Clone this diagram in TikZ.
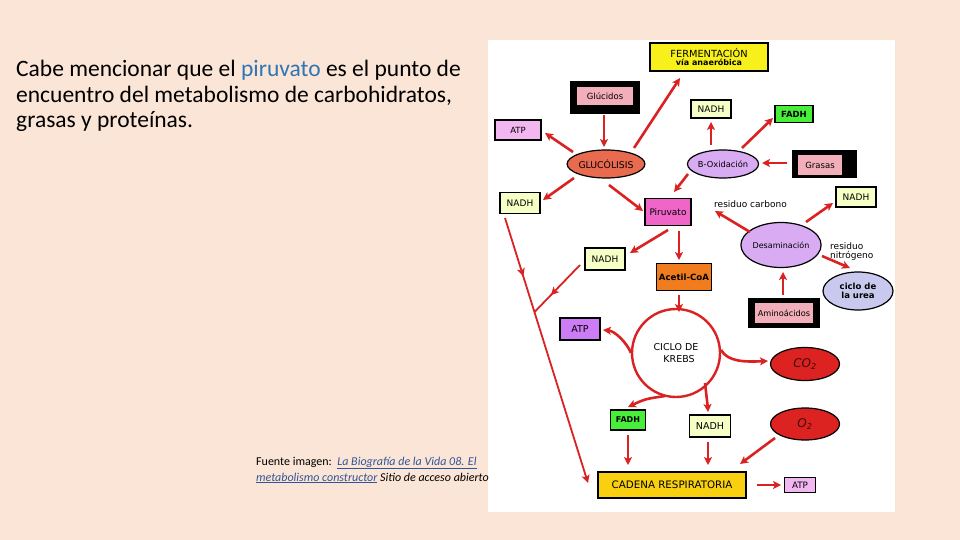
\documentclass[tikz,border=0pt]{standalone}
\usepackage{fontspec}
\setmainfont{Carlito}
\newfontfamily\bfont{DejaVu Sans}
\usetikzlibrary{shapes.geometric,arrows.meta,calc,decorations.markings}
\definecolor{bgc}{HTML}{FBE5D6}
\definecolor{linkblue}{HTML}{2E75B6}
\definecolor{srcblue}{HTML}{2F5597}
\definecolor{arr}{HTML}{DA2222}
\definecolor{ferm}{HTML}{F8F01A}
\definecolor{pinkb}{HTML}{F2AEB9}
\definecolor{atpl}{HTML}{F2B6F0}
\definecolor{nadhc}{HTML}{F6FFC6}
\definecolor{fadhc}{HTML}{47EE3A}
\definecolor{glucc}{HTML}{E86A4F}
\definecolor{lav}{HTML}{D9ABF2}
\definecolor{piruc}{HTML}{F066C8}
\definecolor{acetc}{HTML}{F07C1E}
\definecolor{atpm}{HTML}{CC7CF5}
\definecolor{redc}{HTML}{DD2222}
\definecolor{ureac}{HTML}{C9C8EE}
\definecolor{cadc}{HTML}{F9D010}
\definecolor{dtext}{HTML}{3A0A0A}
\newcommand\fz[1]{\bfont\fontsize{#1}{#1}\selectfont}
\begin{document}
\begin{tikzpicture}[x=1pt,y=-1pt,
  lbl/.style={font=\fz{8.5}},
  box/.style={rectangle,draw=black,line width=1.5pt,inner sep=0pt,lbl},
  ell/.style={ellipse,draw=black,line width=1.2pt,inner sep=0pt,lbl},
  blk/.style={rectangle,fill=black,inner sep=0pt},
  inr/.style={rectangle,fill=pinkb,inner sep=0pt,lbl},
  arw/.style={draw=arr,line width=2.6pt,-{Stealth[length=8pt,width=8pt,inset=2pt]}},
  thin/.style={draw=arr,line width=1.8pt},
  midarr/.style={postaction={decorate},decoration={markings,mark=at position #1 with {\arrow[arr]{Stealth[length=8pt,width=8pt,inset=2pt]}}}}
]
\fill[bgc] (0,0) rectangle (960,540);
\useasboundingbox (0,0) rectangle (960,540);
\fill[white] (488,40) rectangle (895,512);

% left text
\node[anchor=base west,inner sep=0pt,font=\fontsize{23.5}{25}\selectfont] (t1) at (16,77) {Cabe mencionar que el \textcolor{linkblue}{piruvato} es el punto de};
\node[anchor=base west,inner sep=0pt,font=\fontsize{23.5}{25}\selectfont] (t2) at (16,103) {encuentro del metabolismo de carbohidratos,};
\node[anchor=base west,inner sep=0pt,font=\fontsize{23.5}{25}\selectfont] (t3) at (16,128) {grasas y proteínas.};
\node[anchor=base west,inner sep=0pt,font=\fontsize{12}{13}\selectfont] (s1) at (256,465) {Fuente imagen:\ \ \textcolor{srcblue}{\itshape\underline{La Biografía de la Vida 08. El}}};
\node[anchor=base west,inner sep=0pt,font=\fontsize{12}{13}\selectfont] (s2) at (256,481) {\textcolor{srcblue}{\itshape\underline{metabolismo constructor}} \itshape Sitio de acceso abierto};

% nodes
\node[box,fill=ferm,minimum width=118pt,minimum height=28pt,align=center] (ferm) at (709,57) {\fz{9.8}FERMENTACIÓN\\[-0.5pt]\fz{8}\bfseries vía anaeróbica};
\node[blk,minimum width=70pt,minimum height=33pt] (glucidos) at (605,98) {};
\node[inr,minimum width=56pt,minimum height=18pt] (glucidosin) at (605,96) {Glúcidos};
\node[box,fill=atpl,minimum width=46pt,minimum height=20pt] (atp1) at (518,130) {ATP};
\node[box,fill=nadhc,minimum width=40pt,minimum height=18pt,font=\fz{9}] (nadh1) at (711,109) {NADH};
\node[box,fill=fadhc,minimum width=38pt,minimum height=17pt,font=\fz{8.5}\bfseries] (fadh1) at (794,114) {FADH};
\node[ell,fill=glucc,minimum width=73pt,minimum height=28pt,font=\fz{9.3}] (gluc) at (606,164) {GLUCÓLISIS};
\node[ell,fill=lav,minimum width=70pt,minimum height=28pt,font=\fz{8.3}] (boxi) at (723,164) {B-Oxidación};
\node[blk,minimum width=65pt,minimum height=28pt] (grasas) at (824,164) {};
\node[inr,minimum width=44pt,minimum height=20pt] (grasasin) at (820,165) {Grasas};
\node[box,fill=nadhc,minimum width=40pt,minimum height=20pt,font=\fz{9}] (nadh2) at (856,197) {NADH};
\node[box,fill=nadhc,minimum width=40pt,minimum height=21pt,font=\fz{9}] (nadhL) at (520,203) {NADH};
\node[box,fill=piruc,minimum width=46pt,minimum height=27pt,font=\fz{9}] (piru) at (668,212) {Piruvato};
\node[lbl,anchor=west,inner sep=0pt,font=\fz{9}] (rc) at (714,204) {residuo carbono};
\node[ell,fill=lav,minimum width=70pt,minimum height=45pt,font=\fz{8}] (desam) at (781,245) {Desaminación};
\node[lbl,anchor=north west,inner sep=0pt,align=left,font=\fz{9}] (rn) at (830,242) {residuo\\[0.5pt]nitrógeno};
\node[ell,fill=ureac,minimum width=70pt,minimum height=38pt,align=center,font=\fz{8.5}\bfseries] (urea) at (858,291) {ciclo de\\[1pt]la urea};
\node[box,fill=nadhc,minimum width=40pt,minimum height=22pt,font=\fz{9}] (nadh3) at (605,259) {NADH};
\node[box,fill=acetc,minimum width=55pt,minimum height=27pt,font=\fz{8.6}\bfseries] (acetil) at (684,277) {Acetil-CoA};
\node[blk,minimum width=72pt,minimum height=30pt] (amino) at (784,313) {};
\node[inr,minimum width=58pt,minimum height=20pt,font=\fz{8.2}] (aminoin) at (784,313) {Aminoácidos};
\node[box,fill=atpm,minimum width=40pt,minimum height=22pt,font=\fz{9.5}] (atp2) at (580,329) {ATP};
\node[circle,draw=arr,fill=white,line width=2.4pt,minimum size=88pt,inner sep=0pt,align=center,font=\fz{9.5}] (krebs) at (676,353) {CICLO DE\\[2pt]\ \ KREBS};
\node[ell,fill=redc,minimum width=69pt,minimum height=33pt,font=\fz{12}\itshape,text=dtext] (co2) at (805,364) {CO\textsubscript{2}};
\node[ell,fill=redc,minimum width=69pt,minimum height=32pt,font=\fz{12}\itshape,text=dtext] (o2) at (805,424) {O\textsubscript{2}};
\node[box,fill=fadhc,minimum width=35pt,minimum height=20pt,font=\fz{8}\bfseries] (fadh2) at (628,420) {FADH};
\node[box,fill=nadhc,minimum width=41pt,minimum height=22pt,font=\fz{9.5}] (nadh4) at (710,426) {NADH};
\node[box,fill=cadc,line width=2.5pt,minimum width=148pt,minimum height=26pt,font=\fz{10.3}] (cadena) at (672,485) {CADENA RESPIRATORIA};
\node[box,fill=atpl,minimum width=31pt,minimum height=15pt,font=\fz{8.8}] (atp3) at (800,485) {ATP};

% arrows
\draw[arw] ($(glucidos)+(-1,17)$) -- ($(gluc)+(-2,-17)$);
\draw[arw] ($(gluc)+(-33,-12)$) -- ($(atp1)+(27,3)$);
\draw[arw] ($(gluc)+(28,-16)$) -- ($(ferm)+(-29,21)$);
\draw[arw] ($(gluc)+(-32,14)$) -- ($(nadhL)+(23,-3)$);
\draw[arw] ($(gluc)+(3,21)$) -- ($(piru)+(-25,-1)$);
\draw[arw] ($(boxi)+(-12,-19)$) -- ($(nadh1)+(0,13)$);
\draw[arw] ($(boxi)+(19,-16)$) -- ($(fadh1)+(-21,4)$);
\draw[arw] ($(grasas)+(-37,-1)$) -- ($(boxi)+(39,-1)$);
\draw[arw] ($(boxi)+(-35,10)$) -- ($(piru)+(6,-20)$);
\draw[arw] ($(desam)+(-31,-13)$) -- ($(piru)+(47,-1)$);
\draw[arw] ($(desam)+(25,-23)$) -- ($(nadh2)+(-23,6)$);
\draw[arw] ($(desam)+(41,11)$) -- ($(urea)+(-8,-23)$);
\draw[arw] ($(amino)+(-1,-18)$) -- ($(desam)+(2,27)$);
\draw[arw] ($(piru)+(0,18)$) -- ($(nadh3)+(25,-6)$);
\draw[arw] ($(piru)+(11,19)$) -- ($(acetil)+(-5,-17)$);
\draw[arw] ($(acetil)+(-5,18)$) -- ($(krebs)+(3,-41)$);

\coordinate (ls) at ($(nadhL)+(-15,15)$);
\coordinate (le) at ($(cadena)+(-84,-2)$);
\coordinate (J) at ($(ls)!0.355!(le)$);
\draw[thin,midarr=0.22,-{Stealth[length=8pt,width=8pt,inset=2pt]}] (ls) -- (le);
\draw[thin,midarr=0.64] ($(nadh3)+(-25,6)$) -- (J);

\draw[arw] ($(krebs)+(-45,0)$) .. controls ($(krebs)+(-49,-10)$) and ($(krebs)+(-61,-22)$) .. ($(atp2)+(23,1)$);
\draw[arw] ($(krebs)+(45,-3)$) .. controls ($(krebs)+(52,9)$) and ($(krebs)+(69,9)$) .. ($(co2)+(-37,-3)$);
\draw[arw] ($(krebs)+(-11,43)$) .. controls ($(krebs)+(-31,46)$) .. ($(fadh2)+(0,-13)$);
\draw[arw] ($(krebs)+(29,30)$) .. controls ($(krebs)+(31,42)$) .. ($(nadh4)+(-2,-14)$);
\draw[arw] ($(fadh2)+(0,15)$) -- ($(cadena)+(-44,-20)$);
\draw[arw] ($(nadh4)+(-2,16)$) -- ($(cadena)+(36,-20)$);
\draw[arw] ($(o2)+(-30,14)$) -- ($(cadena)+(68,-21)$);
\draw[arw] ($(cadena)+(85,0)$) -- ($(atp3)+(-19,0)$);
\end{tikzpicture}
\end{document}
